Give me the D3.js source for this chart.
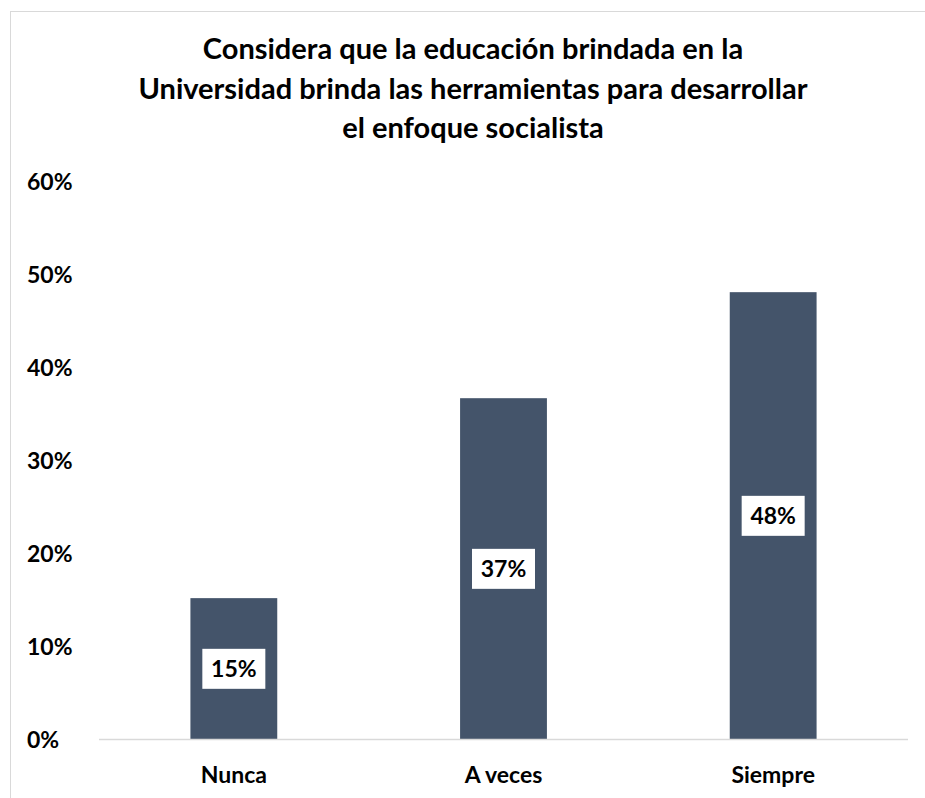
<!DOCTYPE html>
<html lang="es">
<head>
    <meta charset="UTF-8">
    <title>Considera que la educación brindada en la Universidad</title>
    <script src="https://d3js.org/d3.v7.min.js"></script>
    <style>
        body { margin: 0; background: #fff; }
        text { font-family: Lato, "Open Sans", sans-serif; font-weight: bold; fill: #000; }
    </style>
</head>
<body>
    <div id="chart"></div>
    <script>
        // Data
        const categories = ["Nunca", "A veces", "Siempre"];
        const values = [0.152, 0.367, 0.481];
        const labels = ["15%", "37%", "48%"];
        const yTicks = [0, 0.1, 0.2, 0.3, 0.4, 0.5, 0.6];
        const titleLines = [
            "Considera que la educación brindada en la",
            "Universidad brinda las herramientas para desarrollar",
            "el enfoque socialista"
        ];

        const width = 925, height = 798;
        const margin = { top: 181.5, right: 17, bottom: 58.5, left: 99 };

        const svg = d3.select("#chart")
            .append("svg")
            .attr("width", width)
            .attr("height", height);

        // Chart border
        svg.append("rect")
            .attr("x", 10.5).attr("y", 11.5)
            .attr("width", 930).attr("height", 800)
            .attr("fill", "none")
            .attr("stroke", "#d9d9d9");

        // Title
        svg.append("g")
            .selectAll("text")
            .data(titleLines)
            .enter()
            .append("text")
            .attr("x", 473)
            .attr("y", (d, i) => 59 + i * 39.5)
            .attr("text-anchor", "middle")
            .attr("font-size", 29)
            .text(d => d);

        const x = d3.scaleBand()
            .domain(categories)
            .range([margin.left, width - margin.right])
            .paddingInner(0.678)
            .paddingOuter(0.339);

        const y = d3.scaleLinear()
            .domain([0, 0.6])
            .range([height - margin.bottom, margin.top]);

        // Y axis labels
        svg.append("g")
            .selectAll("text")
            .data(yTicks)
            .enter()
            .append("text")
            .attr("x", 27)
            .attr("y", d => y(d))
            .attr("dy", "0.35em")
            .attr("font-size", 23)
            .text(d => d3.format(".0%")(d));

        // Bars
        svg.append("g")
            .selectAll("rect")
            .data(values)
            .enter()
            .append("rect")
            .attr("x", (d, i) => x(categories[i]))
            .attr("y", d => y(d))
            .attr("width", x.bandwidth())
            .attr("height", d => y(0) - y(d))
            .attr("fill", "#44546a");

        // Baseline
        svg.append("line")
            .attr("x1", margin.left).attr("x2", width - margin.right)
            .attr("y1", y(0)).attr("y2", y(0))
            .attr("stroke", "#d9d9d9")
            .attr("stroke-width", 1.5);

        // X axis labels
        svg.append("g")
            .selectAll("text")
            .data(categories)
            .enter()
            .append("text")
            .attr("x", d => x(d) + x.bandwidth() / 2)
            .attr("y", 775)
            .attr("dy", "0.35em")
            .attr("text-anchor", "middle")
            .attr("font-size", 23)
            .text(d => d);

        // Data labels in white boxes
        const lab = svg.append("g")
            .selectAll("g")
            .data(values)
            .enter()
            .append("g")
            .attr("transform", (d, i) =>
                `translate(${x(categories[i]) + x.bandwidth() / 2},${(y(d) + y(0)) / 2})`);

        lab.append("rect")
            .attr("x", -31.5).attr("y", -20)
            .attr("width", 63).attr("height", 40)
            .attr("fill", "#fff");

        lab.append("text")
            .attr("text-anchor", "middle")
            .attr("dy", "0.35em")
            .attr("font-size", 23)
            .text((d, i) => labels[i]);
    </script>
</body>
</html>
